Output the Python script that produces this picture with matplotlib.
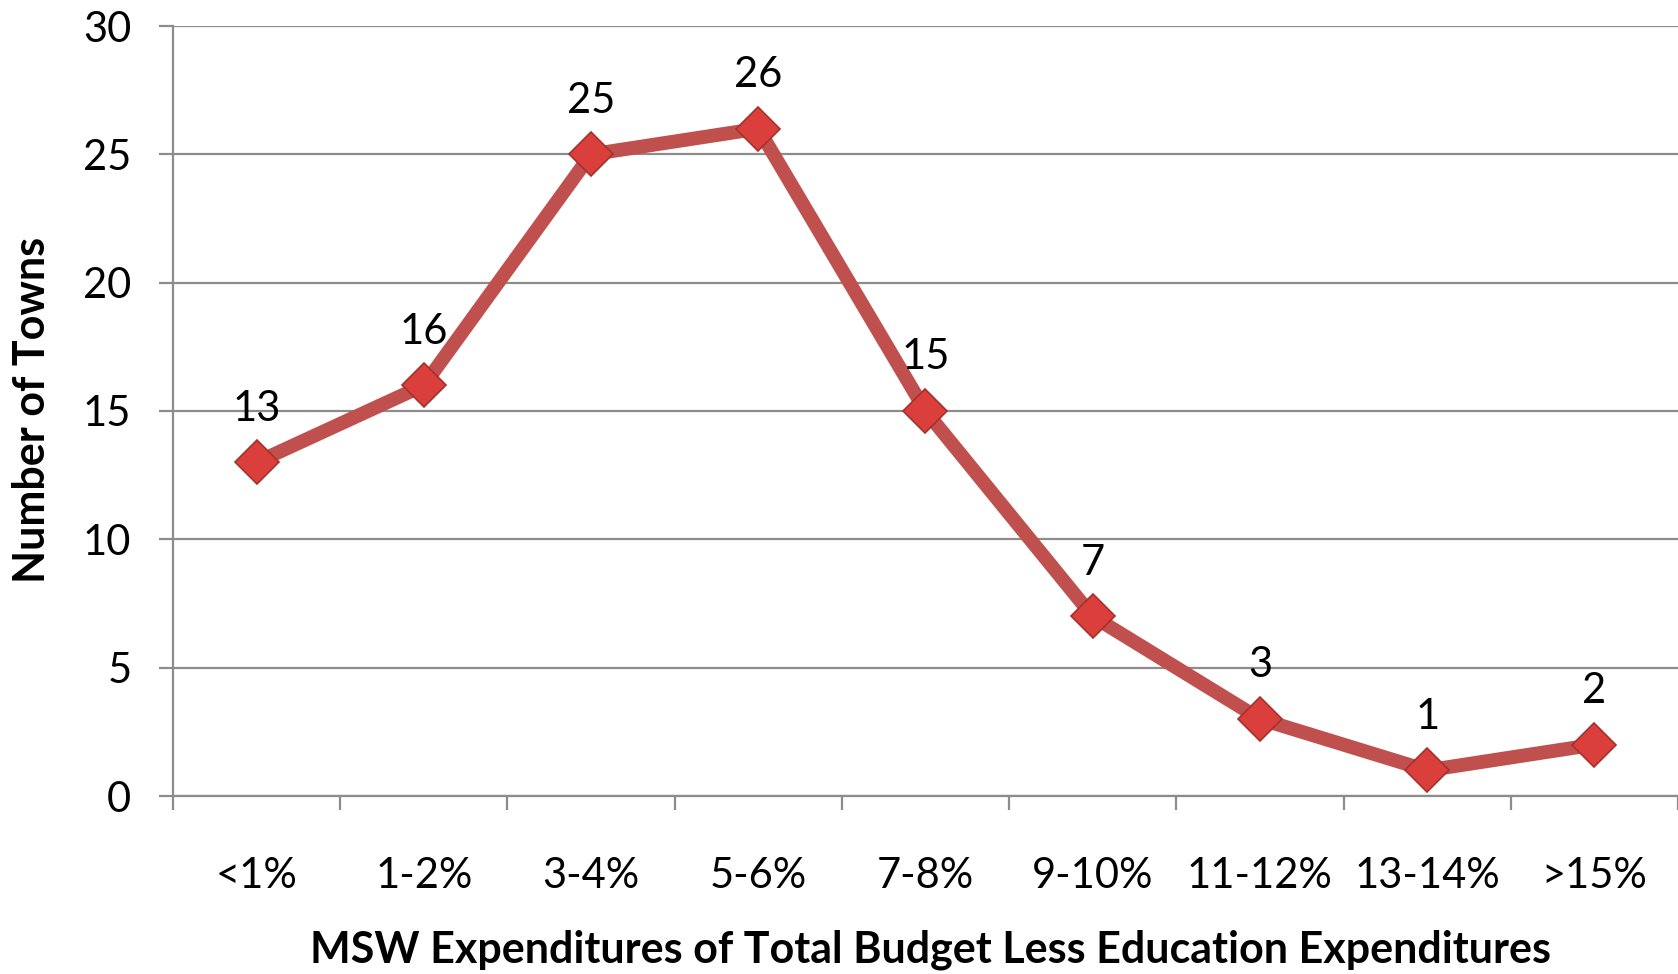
import matplotlib
matplotlib.use("Agg")
import matplotlib.pyplot as plt
import numpy as np

categories = ["<1%", "1-2%", "3-4%", "5-6%", "7-8%", "9-10%", "11-12%", "13-14%", ">15%"]
towns = [13, 16, 25, 26, 15, 7, 3, 1, 2]
y_ticks = [0, 5, 10, 15, 20, 25, 30]

plt.rcParams['font.family'] = ['Lato', 'DejaVu Sans']

W, H = 1678, 974
fig = plt.figure(figsize=(W / 100, H / 100), dpi=100)
ax = fig.add_axes([173 / W, 1 - 796 / H, 1 - 173 / W, (796 - 26) / H])

x = np.arange(len(categories))
ax.plot(x, towns, color="#C0504D", lw=10, zorder=3, solid_capstyle="round")
ax.plot(x, towns, ls="none", marker="D", markersize=22, markerfacecolor="#DA3F3B",
        markeredgecolor="#A8302C", markeredgewidth=1.2, zorder=4)

for xi, v in zip(x, towns):
    ax.annotate(str(v), (xi, v), xytext=(0, 25), textcoords="offset points",
                ha="center", va="bottom", fontsize=30, color="black")

ax.set_xlim(-0.5, len(categories) - 0.5)
ax.set_ylim(0, 30)
ax.set_yticks(y_ticks)
ax.set_yticklabels([str(t) for t in y_ticks], fontsize=30)
ax.yaxis.grid(True, color="#8C8C8C", lw=1.6)
ax.set_axisbelow(True)

ax.set_xticks(x)
ax.set_xticklabels(categories, fontsize=30)
ax.set_xticks(np.arange(-0.5, len(categories), 1.0), minor=True)
ax.tick_params(axis="x", which="major", length=0, pad=44)
ax.tick_params(axis="x", which="minor", length=10, width=1.6, color="#8C8C8C")
ax.tick_params(axis="y", length=10, width=1.6, color="#8C8C8C", pad=20)

for s in ["top", "right"]:
    ax.spines[s].set_visible(False)
for s in ["left", "bottom"]:
    ax.spines[s].set_color("#8C8C8C")
    ax.spines[s].set_linewidth(1.6)

ax.set_ylabel("Number of Towns", fontsize=31, fontweight="bold")
ax.set_xlabel("MSW Expenditures of Total Budget Less Education Expenditures",
              fontsize=31, fontweight="bold")
ax.xaxis.set_label_coords((930 - 173) / (W - 173), -(930 - 796) / (796 - 26))
ax.yaxis.set_label_coords(-(173 - 52) / (W - 173), (796 - 410) / (796 - 26))

fig.savefig("out.png", dpi=100)
